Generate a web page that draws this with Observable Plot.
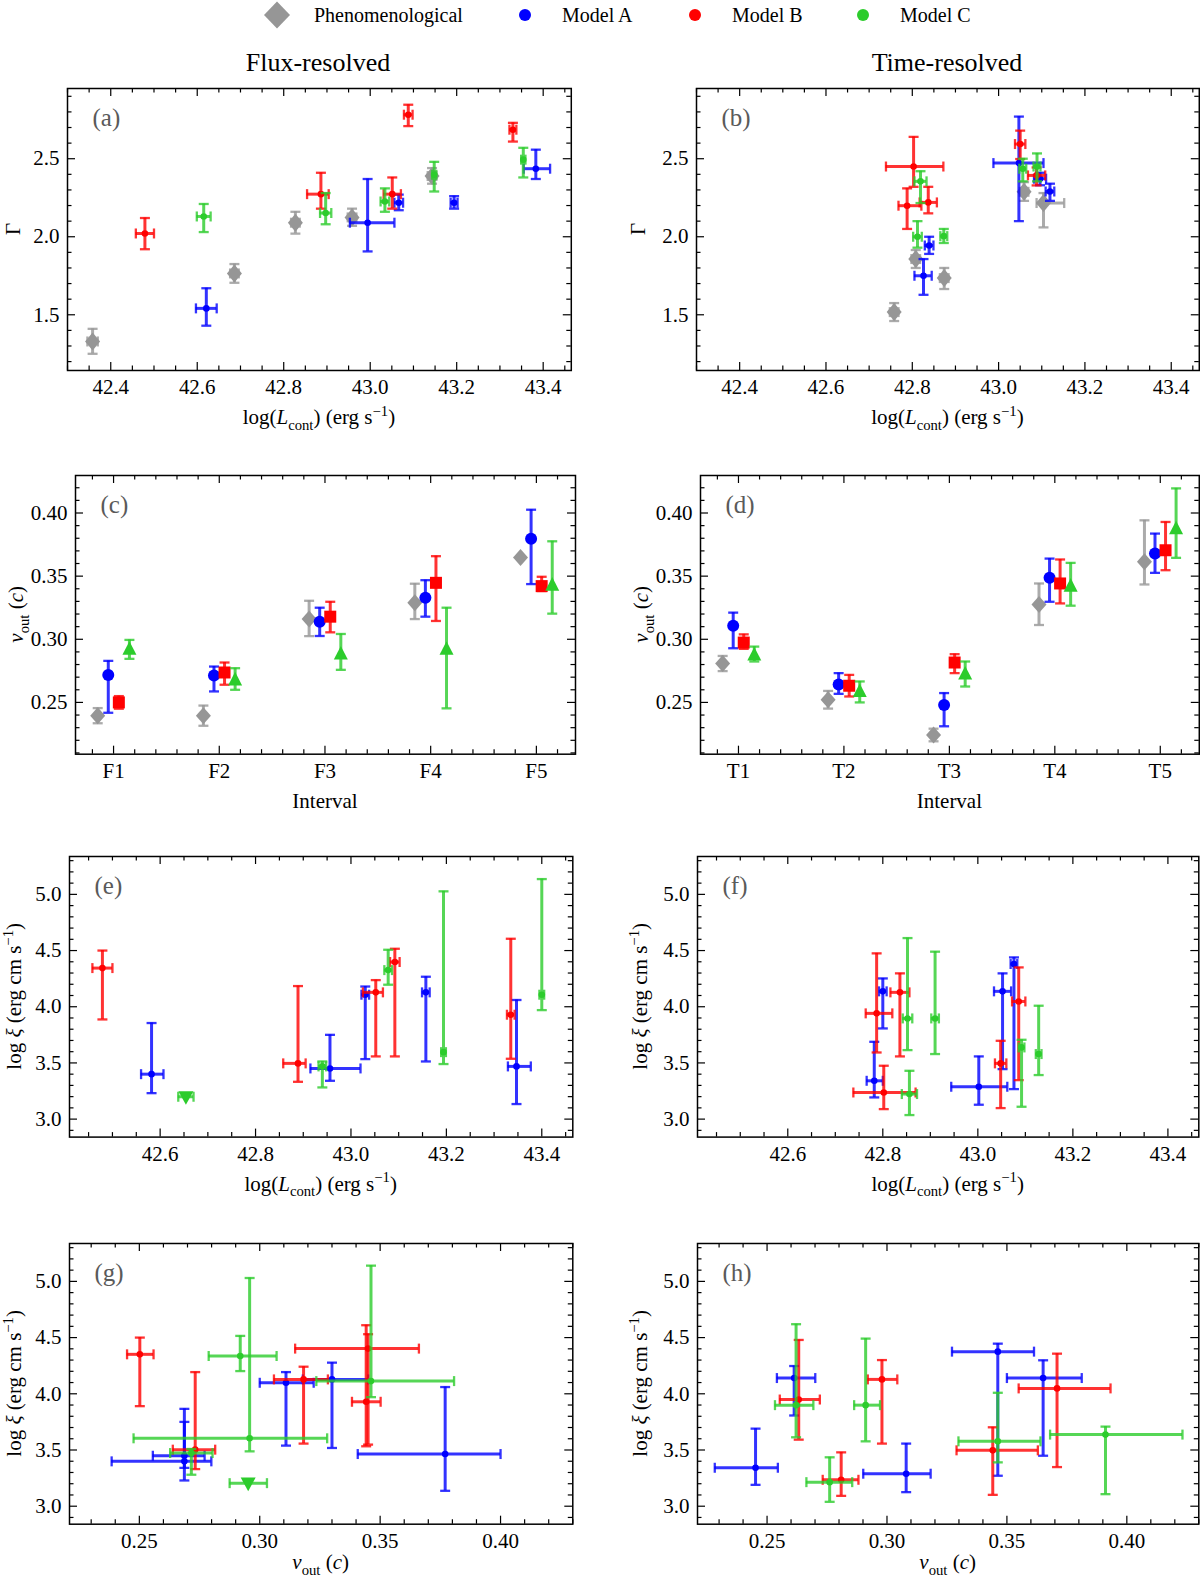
<!DOCTYPE html>
<html><head><meta charset="utf-8">
<script src="https://cdn.jsdelivr.net/npm/d3@7"></script>
<script src="https://cdn.jsdelivr.net/npm/@observablehq/plot@0.6"></script>
<style>
html,body{margin:0;padding:0;background:#fff;}
body{width:1200px;height:1580px;overflow:hidden;}
#root{position:relative;width:1200px;height:1580px;}
#root svg, #root svg text{font-family:'Liberation Serif','Times New Roman',serif !important;}
svg text{white-space:pre;}
</style></head>
<body><div id="root"></div>
<script>
// ---------------- DATA ----------------
const legendLabels = ["Phenomenological", "Model A", "Model B", "Model C"];
const columnTitles = ["Flux-resolved", "Time-resolved"];
const fluxIntervals = ["F1", "F2", "F3", "F4", "F5"];
const timeIntervals = ["T1", "T2", "T3", "T4", "T5"];
const panelTags = ["(a)", "(b)", "(c)", "(d)", "(e)", "(f)", "(g)", "(h)"];

const lumTicks = [42.4, 42.6, 42.8, 43.0, 43.2, 43.4];
const gammaTicks = [1.5, 2.0, 2.5];
const voutTicks = [0.25, 0.30, 0.35, 0.40];
const xiTicks = [3.0, 3.5, 4.0, 4.5, 5.0];
const intervalTicks = [0, 1, 2, 3, 4];
const intervalOffsets = [-0.15, -0.05, 0.05, 0.15]; // pheno, A, B, C

// rows: [x, xLow, xHigh, y, yLow, yHigh]
// (a) Gamma vs log L, flux-resolved
const a_pheno = [[42.358,42.346,42.370,1.329,1.25,1.41],[42.686,42.676,42.696,1.765,1.705,1.825],[42.827,42.817,42.837,2.09,2.02,2.16],[42.958,42.948,42.968,2.124,2.07,2.18],[43.143,43.133,43.153,2.389,2.34,2.44]];
const a_A = [[42.621,42.597,42.645,1.541,1.43,1.67],[42.994,42.953,43.056,2.09,1.906,2.37],[43.066,43.056,43.076,2.218,2.17,2.27],[43.194,43.186,43.202,2.218,2.18,2.26],[43.383,43.355,43.416,2.436,2.37,2.558]];
const a_B = [[42.479,42.458,42.500,2.021,1.92,2.12],[42.886,42.854,42.904,2.273,2.18,2.41],[43.051,43.031,43.071,2.273,2.18,2.38],[43.088,43.078,43.098,2.782,2.709,2.846],[43.330,43.322,43.338,2.686,2.61,2.73]];
const a_C = [[42.615,42.599,42.631,2.13,2.03,2.21],[42.897,42.884,42.910,2.152,2.08,2.28],[43.034,43.024,43.044,2.226,2.16,2.31],[43.148,43.143,43.153,2.397,2.29,2.48],[43.354,43.349,43.359,2.494,2.38,2.57]];
// (b) Gamma vs log L, time-resolved
const b_pheno = [[42.758,42.748,42.768,1.517,1.46,1.575],[42.808,42.798,42.818,1.857,1.80,1.915],[42.874,42.864,42.884,1.735,1.665,1.80],[43.059,43.049,43.069,2.288,2.23,2.35],[43.104,43.088,43.152,2.216,2.06,2.28]];
const b_A = [[42.826,42.805,42.845,1.75,1.628,1.857],[42.839,42.829,42.849,1.944,1.89,2.0],[43.047,42.988,43.104,2.472,2.10,2.77],[43.096,43.082,43.110,2.372,2.33,2.41],[43.119,43.109,43.129,2.29,2.23,2.34]];
const b_B = [[42.803,42.739,42.872,2.45,2.32,2.64],[42.788,42.768,42.821,2.199,2.05,2.31],[42.837,42.817,42.857,2.22,2.15,2.32],[43.050,43.038,43.062,2.594,2.498,2.68],[43.088,43.068,43.108,2.393,2.329,2.444]];
const b_C = [[42.819,42.805,42.833,2.355,2.216,2.42],[42.812,42.802,42.822,2.0,1.93,2.10],[42.873,42.865,42.881,2.004,1.96,2.05],[43.056,43.048,43.064,2.436,2.355,2.5],[43.089,43.081,43.097,2.45,2.355,2.534]];
// (c) v_out per flux interval: [value, low, high]
const c_pheno = [[0.2395,0.2335,0.2455],[0.2395,0.2315,0.2475],[0.316,0.3025,0.3305],[0.3289,0.316,0.344],[0.3647,0.3647,0.3647]];
const c_A = [[0.2718,0.2418,0.2829],[0.2713,0.2587,0.2784],[0.3139,0.3026,0.325],[0.3329,0.3179,0.3468],[0.3797,0.3437,0.4026]];
const c_B = [[0.25,0.245,0.255],[0.2737,0.264,0.2816],[0.3179,0.3055,0.3297],[0.3447,0.3145,0.3658],[0.3421,0.3382,0.3495]];
const c_C = [[0.2921,0.2845,0.2995],[0.2679,0.26,0.2771],[0.2884,0.2758,0.3042],[0.2921,0.2453,0.325],[0.3429,0.3203,0.3776]];
// (d) v_out per time interval
const d_pheno = [[0.2808,0.2748,0.2868],[0.2521,0.2451,0.2591],[0.2242,0.2192,0.2292],[0.3276,0.3113,0.3442],[0.3613,0.3434,0.3942]];
const d_A = [[0.3108,0.2929,0.3211],[0.2642,0.2568,0.2732],[0.2479,0.2311,0.2574],[0.3487,0.3297,0.3639],[0.3679,0.3526,0.3837]];
const d_B = [[0.2974,0.2924,0.3039],[0.2632,0.2547,0.2718],[0.2816,0.2732,0.2882],[0.3442,0.3284,0.3632],[0.3705,0.3547,0.3929]];
const d_C = [[0.2876,0.2824,0.2942],[0.2587,0.25,0.2666],[0.2726,0.2626,0.2824],[0.3421,0.3266,0.3605],[0.3876,0.3645,0.4195]];
// (e) log xi vs log L, flux-resolved
const e_A = [[42.582,42.560,42.607,3.40,3.231,3.855],[42.956,42.915,43.020,3.451,3.341,3.75],[43.030,43.022,43.038,4.107,3.534,4.18],[43.157,43.149,43.165,4.128,3.513,4.267],[43.347,43.329,43.377,3.469,3.134,4.06]];
const e_B = [[42.479,42.458,42.500,4.344,3.887,4.5],[42.889,42.858,42.905,3.496,3.332,4.184],[43.052,43.025,43.067,4.128,3.558,4.237],[43.092,43.082,43.102,4.398,3.558,4.516],[43.335,43.327,43.343,3.929,3.537,4.605]];
const e_C = [[42.940,42.932,42.948,3.469,3.282,3.513],[43.078,43.070,43.086,4.326,4.196,4.507],[43.194,43.189,43.199,3.596,3.49,5.027],[43.400,43.395,43.405,4.107,3.97,5.136]];
const e_C_upper = [[42.654,42.638,42.670,3.199,3.199,3.199]];
// (f) log xi vs log L, time-resolved
const f_A = [[42.800,42.792,42.808,4.137,3.807,4.252],[42.782,42.766,42.800,3.341,3.193,3.688],[43.002,42.944,43.062,3.288,3.128,3.558],[43.052,43.034,43.070,4.137,3.445,4.297],[43.076,43.069,43.083,4.38,3.267,4.439]];
const f_B = [[42.787,42.764,42.820,3.941,3.593,4.475],[42.836,42.816,42.856,4.128,3.558,4.297],[42.802,42.738,42.869,3.237,3.089,3.475],[43.048,43.036,43.060,3.496,3.098,3.697],[43.086,43.072,43.100,4.047,3.347,4.35]];
const f_C = [[42.852,42.842,42.862,3.896,3.614,4.611],[42.910,42.902,42.918,3.896,3.579,4.49],[42.856,42.840,42.872,3.223,3.036,3.43],[43.092,43.086,43.098,3.638,3.11,3.706],[43.128,43.122,43.134,3.579,3.392,4.009]];
// (g) log xi vs v_out, flux-resolved
const g_A = [[0.2687,0.2385,0.2799,3.399,3.229,3.866],[0.2687,0.2556,0.2771,3.449,3.341,3.75],[0.3109,0.300,0.3224,4.098,3.539,4.193],[0.330,0.3179,0.345,4.128,3.518,4.277],[0.377,0.3407,0.400,3.464,3.137,4.06]];
const g_B = [[0.2502,0.2449,0.2559,4.351,3.89,4.5],[0.2732,0.2639,0.2815,3.503,3.33,4.193],[0.3182,0.3059,0.3283,4.128,3.557,4.241],[0.345,0.3147,0.3661,4.402,3.548,4.53],[0.3442,0.3383,0.3502,3.929,3.533,4.61]];
const g_C = [[0.2716,0.2628,0.2804,3.473,3.28,3.509],[0.2958,0.2476,0.328,3.604,3.488,5.03],[0.2919,0.2788,0.307,4.336,4.202,4.515],[0.3462,0.3235,0.3807,4.113,3.97,5.14]];
const g_C_upper = [[0.2952,0.2875,0.303,3.205,3.205,3.205]];
// (h) log xi vs v_out, time-resolved
const h_A = [[0.2452,0.2282,0.2545,3.342,3.19,3.69],[0.2613,0.2541,0.2701,4.14,3.807,4.247],[0.308,0.2901,0.3182,3.289,3.125,3.557],[0.3462,0.3271,0.3613,4.375,3.271,4.446],[0.3651,0.350,0.3812,4.14,3.449,4.298]];
const h_B = [[0.2632,0.2553,0.272,3.949,3.592,4.479],[0.2809,0.2732,0.2881,3.235,3.092,3.479],[0.2979,0.292,0.3043,4.128,3.557,4.30],[0.3441,0.329,0.3629,3.497,3.101,3.702],[0.3709,0.3549,0.3932,4.048,3.348,4.357]];
const h_C = [[0.2621,0.2533,0.2693,3.899,3.613,4.619],[0.2761,0.2664,0.2855,3.214,3.039,3.435],[0.2911,0.2863,0.2971,3.899,3.577,4.491],[0.3462,0.3298,0.364,3.577,3.39,4.009],[0.3911,0.368,0.4232,3.637,3.107,3.708]];

// ---------------- STYLE ----------------
const SERIF = "'Liberation Serif','Times New Roman',serif";
const COL = {pheno: "#969696", A: "#0000ff", B: "#ff0000", C: "#2ccc2c"};
const root = document.getElementById("root");

const capH = {draw(c){ c.moveTo(-5,0); c.lineTo(5,0); }};
const capV = {draw(c){ c.moveTo(0,-5); c.lineTo(0,5); }};
const diamondSym = (w,h) => ({draw(c){ c.moveTo(0,-h); c.lineTo(w,0); c.lineTo(0,h); c.lineTo(-w,0); c.closePath(); }});
const circleSym = r => ({draw(c){ c.moveTo(r,0); c.arc(0,0,r,0,2*Math.PI); c.closePath(); }});
const squareSym = s => ({draw(c){ c.rect(-s,-s,2*s,2*s); }});
const triUpSym = (w,h) => ({draw(c){ c.moveTo(0,-h); c.lineTo(w,h*0.7); c.lineTo(-w,h*0.7); c.closePath(); }});
const triDownSym = (w,h) => ({draw(c){ c.moveTo(0,h); c.lineTo(w,-h*0.7); c.lineTo(-w,-h*0.7); c.closePath(); }});

function errorMarks(rows, color, marker) {
  const line = {stroke: color, strokeOpacity: 0.8, strokeWidth: 3};
  const cap = {stroke: color, strokeOpacity: 0.8, strokeWidth: 2.3, fill: "none", r: 3};
  const hx = rows.filter(d => d[2] > d[1]);
  const vy = rows.filter(d => d[5] > d[4]);
  return [
    Plot.ruleY(hx, {y: d => d[3], x1: d => d[1], x2: d => d[2], ...line}),
    Plot.ruleX(vy, {x: d => d[0], y1: d => d[4], y2: d => d[5], ...line}),
    Plot.dot(hx, {x: d => d[1], y: d => d[3], symbol: capV, ...cap}),
    Plot.dot(hx, {x: d => d[2], y: d => d[3], symbol: capV, ...cap}),
    Plot.dot(vy, {x: d => d[0], y: d => d[4], symbol: capH, ...cap}),
    Plot.dot(vy, {x: d => d[0], y: d => d[5], symbol: capH, ...cap}),
    Plot.dot(rows, {x: d => d[0], y: d => d[3], symbol: marker, r: 3, fill: color, stroke: "none"})
  ];
}

function minorTicks(lo, hi, step, majors) {
  return d3.range(Math.ceil(lo/step - 1e-6)*step, hi + 1e-9, step)
    .map(v => +v.toFixed(6))
    .filter(v => v >= lo && v <= hi && !majors.some(m => Math.abs(m - v) < step/4));
}

function richText(sel, x, y, parts, size, rotate) {
  const t = sel.append("text").attr("x", x).attr("y", y).attr("text-anchor", "middle")
    .attr("font-family", SERIF).attr("font-size", size).attr("fill", "#000");
  if (rotate) t.attr("transform", `rotate(${rotate},${x},${y})`);
  let shift = 0;
  for (const p of parts) {
    const s = t.append("tspan").text(p.t);
    if (p.i) s.attr("font-style", "italic");
    const target = p.sub ? size*0.28 : p.sup ? -size*0.40 : 0;
    if (p.sub || p.sup) s.attr("font-size", size*0.7);
    if (target !== shift) { s.attr("dy", target - shift); shift = target; }
  }
}

const T_LUM = [{t:"log("},{t:"L",i:true},{t:"cont",sub:true},{t:") (erg s"},{t:"\u22121",sup:true},{t:")"}];
const T_VOUT = [{t:"v",i:true},{t:"out",sub:true},{t:" ("},{t:"c",i:true},{t:")"}];
const T_XI = [{t:"log "},{t:"\u03be",i:true},{t:" (erg cm s"},{t:"\u22121",sup:true},{t:")"}];
const T_GAMMA = [{t:"\u0393"}];
const T_INT = [{t:"Interval"}];

function panel(s) {
  const mL = 80, mR = 1, mT = 5, mB = 75;
  const W = s.fR - s.fL, H = s.fB - s.fT;
  const t = {stroke: "#000", strokeWidth: 1.2};
  const xMin = minorTicks(s.xDomain[0], s.xDomain[1], s.xStep, s.xMaj);
  const yMin = minorTicks(s.yDomain[0], s.yDomain[1], s.yStep, s.yMaj);
  const marks = [
    Plot.tickX(s.xMaj, {x: d => d, insetTop: H - 8, ...t}),
    Plot.tickX(s.xMaj, {x: d => d, insetBottom: H - 8, ...t}),
    Plot.tickX(xMin, {x: d => d, insetTop: H - 4.5, ...t}),
    Plot.tickX(xMin, {x: d => d, insetBottom: H - 4.5, ...t}),
    Plot.tickY(s.yMaj, {y: d => d, insetRight: W - 8, ...t}),
    Plot.tickY(s.yMaj, {y: d => d, insetLeft: W - 8, ...t}),
    Plot.tickY(yMin, {y: d => d, insetRight: W - 4.5, ...t}),
    Plot.tickY(yMin, {y: d => d, insetLeft: W - 4.5, ...t}),
    Plot.axisX(s.xMaj, {anchor: "bottom", tickSize: 0, tickPadding: 9, tickFormat: s.xFmt, fontSize: 21, fontFamily: SERIF, label: null}),
    Plot.axisY(s.yMaj, {anchor: "left", tickSize: 0, tickPadding: 8, tickFormat: s.yFmt, fontSize: 21, fontFamily: SERIF, label: null}),
    Plot.text([s.tag], {text: d => d, frameAnchor: "top-left", dx: 25, dy: 30, lineAnchor: "middle", textAnchor: "start", fontSize: 25, fontFamily: SERIF, fill: "#5a5a5a"}),
    ...s.marks,
    Plot.frame({stroke: "#000", strokeWidth: 1.5})
  ];
  const svg = Plot.plot({
    width: W + mL + mR, height: H + mT + mB,
    marginLeft: mL, marginRight: mR, marginTop: mT, marginBottom: mB,
    x: {domain: s.xDomain}, y: {domain: s.yDomain},
    style: {background: "transparent", overflow: "visible"},
    marks
  });
  svg.style.position = "absolute";
  svg.style.left = (s.fL - mL) + "px";
  svg.style.top = (s.fT - mT) + "px";
  svg.style.maxWidth = "none";
  svg.style.fontFamily = SERIF;
  svg.style.fontSize = "21px";
  const sel = d3.select(svg);
  richText(sel, mL + W/2, mT + H + (s.xTitleOff || 54), s.xTitle, 21, 0);
  richText(sel, mL - s.yTitleOff, mT + H/2, s.yTitle, 21, -90);
  root.appendChild(svg);
}

const SYM_S = {pheno: diamondSym(7.5, 9), A: circleSym(3.3), B: circleSym(3.3), C: circleSym(3.3)};
const SYM_C = {pheno: diamondSym(7.5, 8.5), A: circleSym(6), B: squareSym(6), C: triUpSym(7, 8)};

function scatterMarks(pheno, A, B, C, Cup) {
  const m = [];
  if (pheno) m.push(...errorMarks(pheno, COL.pheno, SYM_S.pheno));
  m.push(...errorMarks(A, COL.A, SYM_S.A));
  m.push(...errorMarks(B, COL.B, SYM_S.B));
  if (Cup) m.push(...errorMarks(Cup, COL.C, triDownSym(7.5, 8)));
  m.push(...errorMarks(C, COL.C, SYM_S.C));
  return m;
}
function intervalMarks(series) {
  const keys = ["pheno", "A", "B", "C"];
  const m = [];
  series.forEach((rows, k) => {
    const conv = rows.map((r, i) => [intervalTicks[i] + intervalOffsets[k], intervalTicks[i] + intervalOffsets[k], intervalTicks[i] + intervalOffsets[k], r[0], r[1], r[2]]);
    m.push(...errorMarks(conv, COL[keys[k]], SYM_C[keys[k]]));
  });
  return m;
}

const f1 = d3.format(".1f"), f2 = d3.format(".2f");
const lumDomA = [42.30, 43.465], gamDom = [1.143, 2.95];
const lumDomE = [42.41, 43.465], xiDom = [2.84, 5.337];
const intDom = [-0.36, 4.37], voutDom = [0.209, 0.4297];
const voutDomG = [0.221, 0.430];

const L = {fL: 66.5, fR: 570.3}, R = {fL: 695.5, fR: 1198.3};
const rows = [{fT: 88.3, fB: 370.3}, {fT: 475.3, fB: 754}, {fT: 856, fB: 1136.6}, {fT: 1242.8, fB: 1523.5}];

// (a)
panel({...L, ...rows[0], xDomain: lumDomA, yDomain: gamDom, xMaj: lumTicks, xStep: 0.05, yMaj: gammaTicks, yStep: 0.1,
  xFmt: f1, yFmt: f1, tag: panelTags[0], xTitle: T_LUM, yTitle: T_GAMMA, yTitleOff: 47,
  marks: scatterMarks(a_pheno, a_A, a_B, a_C)});
// (b)
panel({...R, ...rows[0], xDomain: lumDomA, yDomain: gamDom, xMaj: lumTicks, xStep: 0.05, yMaj: gammaTicks, yStep: 0.1,
  xFmt: f1, yFmt: f1, tag: panelTags[1], xTitle: T_LUM, yTitle: T_GAMMA, yTitleOff: 51,
  marks: scatterMarks(b_pheno, b_A, b_B, b_C)});
// (c)
panel({fL: 74.8, fR: 574.8, ...rows[1], xDomain: intDom, yDomain: voutDom, xMaj: intervalTicks, xStep: 0.2, yMaj: voutTicks, yStep: 0.01,
  xFmt: d => fluxIntervals[d], yFmt: f2, tag: panelTags[2], xTitle: T_INT, yTitle: T_VOUT, yTitleOff: 52,
  marks: intervalMarks([c_pheno, c_A, c_B, c_C])});
// (d)
panel({fL: 699.5, fR: 1198.3, ...rows[1], xDomain: intDom, yDomain: voutDom, xMaj: intervalTicks, xStep: 0.2, yMaj: voutTicks, yStep: 0.01,
  xFmt: d => timeIntervals[d], yFmt: f2, tag: panelTags[3], xTitle: T_INT, yTitle: T_VOUT, yTitleOff: 52,
  marks: intervalMarks([d_pheno, d_A, d_B, d_C])});
// (e)
panel({fL: 69, fR: 572.3, ...rows[2], xDomain: lumDomE, yDomain: xiDom, xMaj: lumTicks.slice(1), xStep: 0.05, yMaj: xiTicks, yStep: 0.1,
  xFmt: f1, yFmt: f1, tag: panelTags[4], xTitle: T_LUM, yTitle: T_XI, yTitleOff: 48,
  marks: scatterMarks(null, e_A, e_B, e_C, e_C_upper)});
// (f)
panel({fL: 697, fR: 1198.3, ...rows[2], xDomain: lumDomE, yDomain: xiDom, xMaj: lumTicks.slice(1), xStep: 0.05, yMaj: xiTicks, yStep: 0.1,
  xFmt: f1, yFmt: f1, tag: panelTags[5], xTitle: T_LUM, yTitle: T_XI, yTitleOff: 50,
  marks: scatterMarks(null, f_A, f_B, f_C)});
// (g)
panel({fL: 69, fR: 572.3, ...rows[3], xDomain: voutDomG, yDomain: xiDom, xMaj: voutTicks, xStep: 0.01, yMaj: xiTicks, yStep: 0.1,
  xFmt: f2, yFmt: f1, tag: panelTags[6], xTitle: T_VOUT, xTitleOff: 45, yTitle: T_XI, yTitleOff: 48,
  marks: scatterMarks(null, g_A, g_B, g_C, g_C_upper)});
// (h)
panel({fL: 697, fR: 1198.3, ...rows[3], xDomain: voutDomG, yDomain: xiDom, xMaj: voutTicks, xStep: 0.01, yMaj: xiTicks, yStep: 0.1,
  xFmt: f2, yFmt: f1, tag: panelTags[7], xTitle: T_VOUT, xTitleOff: 45, yTitle: T_XI, yTitleOff: 50,
  marks: scatterMarks(null, h_A, h_B, h_C)});

// ---------------- legend + column titles ----------------
const over = d3.select(root).append("svg").attr("width", 1200).attr("height", 80)
  .style("position", "absolute").style("left", "0px").style("top", "0px");
const legX = [277, 525, 695, 863];
const legSym = [diamondSym(13, 13.5), circleSym(6), circleSym(6), circleSym(6)];
const legCol = [COL.pheno, COL.A, COL.B, COL.C];
legendLabels.forEach((lab, i) => {
  over.append("path").attr("d", d3.symbol(legSym[i])()).attr("transform", `translate(${legX[i]},15)`).attr("fill", legCol[i]);
  over.append("text").attr("x", legX[i] + 37).attr("y", 22).attr("font-family", SERIF).attr("font-size", 20).text(lab);
});
over.append("text").attr("x", 318).attr("y", 71).attr("text-anchor", "middle").attr("font-family", SERIF).attr("font-size", 26).text(columnTitles[0]);
over.append("text").attr("x", 947).attr("y", 71).attr("text-anchor", "middle").attr("font-family", SERIF).attr("font-size", 26).text(columnTitles[1]);
</script>
</body></html>
